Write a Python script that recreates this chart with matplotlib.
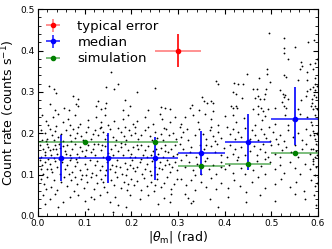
import numpy as np
import matplotlib
matplotlib.use("Agg")
import matplotlib.pyplot as plt
from matplotlib.ticker import MultipleLocator

# scatter of individual sources (units: mrad, 1e-3 counts/s)
pts_x = [156, 23, 34, 39, 146, 164, 171, 213, 250, 75, 86, 27, 82, 87, 129, 125, 146, 187, 198, 37, 57, 66, 136, 143, 182, 236, 264, 273, 284,
         494, 528, 578, 591, 528, 551, 527, 536, 563, 566, 561, 582, 593, 598, 589, 577, 447, 491, 490, 473, 527, 532, 557, 577, 594, 593,
         382, 386, 421, 429, 439, 461, 470, 489, 498, 518, 525, 530, 577, 582, 589, 594, 598, 591, 596, 586, 575, 564, 418, 425, 437,
         351, 356, 363, 371, 374, 330, 325, 346, 374, 414, 418, 425, 427, 464, 471, 475, 484, 487, 471, 477, 482, 461, 493, 508, 523,
         527, 532, 536, 528, 558, 584, 589, 594, 598, 586]
pts_y = [349, 315, 308, 297, 311, 307, 318, 300, 309, 291, 283, 270, 270, 265, 279, 266, 272, 281, 265, 257, 260, 257, 258, 262, 257, 257, 264, 262, 258,
         442, 431, 421, 426, 405, 409, 394, 379, 373, 362, 355, 367, 371, 379, 355, 349, 343, 355, 344, 334, 342, 336, 329, 329, 333, 319,
         327, 319, 321, 319, 319, 308, 308, 308, 325, 304, 295, 292, 303, 307, 311, 305, 315, 292, 287, 283, 289, 281, 299, 295, 284,
         287, 279, 273, 279, 273, 268, 260, 257, 254, 265, 260, 266, 260, 284, 289, 283, 283, 294, 265, 260, 254, 258, 258, 262, 275,
         266, 260, 283, 287, 258, 265, 258, 266, 258, 272]

# lower-left block, zoom pixel coords (x_mrad = zx*0.714, y = 251.1 - zy*0.807)
ll = [(12,10),(25,28),(45,15),(60,5),(75,30),(90,20),(95,38),(110,8),(125,35),(150,25),(175,15),(190,30),(200,10),(210,40),(228,28),(255,20),
      (270,10),(285,35),(298,28),(320,15),(345,35),(365,5),(372,22),(395,30),(410,15),(30,40),(55,42),(120,45),(185,48),(262,45),(330,45),(378,48),
      (8,55),(20,62),(35,50),(42,70),(50,58),(60,75),(70,65),(28,80),(12,85),(48,85),(85,55),(95,68),(105,50),(112,78),(118,62),(128,72),(135,85),
      (100,88),(145,60),(160,80),(172,55),(180,70),(188,45),(195,60),(200,82),(208,68),(215,52),(225,75),(235,85),(248,60),(258,72),(265,85),
      (272,55),(280,70),(292,62),(300,80),(310,68),(322,55),(335,72),(342,85),(350,60),(358,78),(368,65),(375,85),(385,50),(392,70),(405,62),
      (415,80),(240,48),(290,45),(25,88),(75,88),(150,45),(165,65),
      (5,100),(15,110),(22,120),(30,105),(38,128),(45,112),(52,98),(58,125),(65,108),(72,135),(80,118),(88,100),(95,130),(102,112),(110,95),
      (118,125),(125,105),(132,118),(140,132),(150,100),(158,120),(165,110),(172,128),(180,95),(188,115),(195,135),(202,102),(210,122),(218,110),
      (225,130),(232,98),(240,118),(248,105),(255,128),(262,95),(270,115),(278,125),(285,105),(292,135),(300,112),(308,98),(315,128),(322,115),
      (330,102),(338,130),(345,118),(352,95),(360,125),(368,108),(375,135),(382,98),(390,120),(398,110),(405,132),(412,100),(418,125),(10,135),
      (28,95),(48,138),(62,95),(85,125),(100,138),(122,135),(145,115),(168,95),(192,98),(215,135),(250,92),(275,135),(298,100),(326,135),
      (355,110),(380,118),(20,130),(35,115),(55,110),(75,102),
      (5,145),(12,160),(20,150),(28,170),(35,155),(42,180),(50,148),(58,165),(65,185),(72,150),(80,172),(88,158),(95,145),(102,180),(110,162),
      (118,150),(125,175),(132,188),(140,155),(148,170),(155,145),(162,182),(170,160),(178,148),(185,175),(192,162),(200,188),(208,150),
      (215,170),(222,158),(230,180),(238,145),(245,165),(252,185),(260,152),(268,172),(275,160),(282,145),(290,178),(298,165),(305,150),
      (312,185),(320,170),(328,155),(335,178),(342,148),(350,165),(358,185),(365,150),(372,172),(380,160),(388,145),(395,180),(402,165),
      (410,150),(418,175),(15,185),(38,170),(62,142),(92,185),(115,140),(145,188),(175,190),(205,175),(235,162),(265,190),(285,168),(310,142),
      (340,190),(362,168),(392,155),(8,172),(30,142),
      (8,200),(18,215),(28,195),(38,225),(48,205),(58,235),(68,210),(78,195),(88,222),(98,205),(108,238),(118,215),(128,200),(138,228),
      (148,210),(158,195),(168,232),(178,212),(188,200),(198,225),(208,240),(218,205),(228,218),(238,195),(248,228),(258,210),(268,235),
      (278,200),(288,220),(298,208),(308,235),(318,198),(328,222),(338,210),(348,238),(358,200),(368,225),(378,212),(388,195),(398,230),
      (408,215),(418,202),(25,230),(112,195),(195,210),(270,215),(350,218),
      (15,250),(35,262),(52,245),(75,270),(95,255),(120,248),(140,268),(160,255),(168,262),(185,250),(215,270),(232,255),(240,280),(275,250),
      (305,262),(330,248),(360,275),(378,258),(400,245),(60,285),(150,290),(225,300),(395,270),(20,275),(265,285)]

# lower-right block, zoom pixel coords (x_mrad = 300 + zx*0.714, y = 251.1 - zy*0.807)
lr = [(20,15),(45,10),(80,5),(100,20),(140,12),(165,8),(175,30),(198,18),(240,5),(252,25),(262,12),(290,35),(320,10),(345,25),(365,5),
      (388,15),(400,30),(412,8),(420,22),(8,35),(60,30),(120,38),(230,38),(330,38),
      (5,45),(15,60),(28,52),(10,75),(30,85),(50,70),(62,50),(75,65),(85,80),(95,55),(105,72),(112,88),(120,60),(130,78),(148,45),(155,65),
      (165,50),(172,80),(180,60),(190,75),(200,48),(222,55),(232,70),(240,85),(248,50),(258,65),(265,78),(272,45),(285,60),(295,82),(305,70),
      (318,88),(330,55),(345,75),(360,62),(372,85),(385,50),(395,70),(405,58),(412,80),(418,65),(422,45),(100,45),(215,82),(275,88),
      (5,95),(15,110),(25,130),(40,105),(55,135),(65,98),(78,112),(88,138),(100,102),(110,120),(118,95),(128,130),(138,108),(155,100),
      (165,125),(172,112),(180,135),(190,105),(200,128),(215,118),(228,102),(238,130),(245,112),(255,95),(262,120),(270,135),(280,100),
      (290,125),(300,95),(312,115),(325,105),(338,120),(350,100),(360,135),(372,112),(385,95),(395,125),(405,110),(412,135),(420,100),
      (35,120),(85,100),(148,135),(305,135),(415,118),
      (8,145),(20,165),(32,150),(45,175),(58,155),(68,185),(80,148),(92,170),(105,160),(115,185),(128,150),(140,172),(152,158),(165,182),
      (178,145),(190,168),(200,185),(212,155),(225,175),(238,148),(250,162),(262,185),(275,150),(290,172),(305,158),(318,182),(335,150),
      (350,168),(365,185),(380,155),(395,172),(405,148),(415,165),(422,185),(50,188),(130,165),(260,140),
      (10,200),(25,218),(40,205),(52,235),(70,210),(85,225),(98,198),(115,232),(130,212),(150,228),(168,205),(185,222),(205,240),(222,210),
      (240,195),(262,228),(290,215),(310,200),(335,225),(355,210),(378,238),(398,205),(412,222),(420,195),
      (20,245),(30,258),(38,272),(45,268),(95,262),(150,255),(205,270),(245,250),(292,268),(350,245),(380,262),(408,250),(415,280),(120,285),
      (402,40),(408,68),(414,95),(418,128),(404,155),(410,190),(416,212),(420,60),(400,110),(406,140)]

sx = np.array(pts_x + [zx * 0.714 for zx, zy in ll] + [300 + zx * 0.714 for zx, zy in lr]) / 1000
sy = np.array(pts_y + [251.1 - zy * 0.807 for zx, zy in ll] + [251.1 - zy * 0.807 for zx, zy in lr]) / 1000

# median per bin
med_x = [0.05, 0.15, 0.25, 0.35, 0.45, 0.55]
med_y = [0.139, 0.139, 0.140, 0.151, 0.178, 0.234]
med_lo = [0.085, 0.080, 0.088, 0.098, 0.111, 0.171]
med_hi = [0.195, 0.201, 0.191, 0.206, 0.246, 0.311]
med_xerr = [0.05, 0.05, 0.05, 0.05, 0.05, 0.05]

# simulation
sim_x = [0.10, 0.25, 0.35, 0.45, 0.55]
sim_y = [0.178, 0.178, 0.121, 0.125, 0.153]
sim_xerr = [0.10, 0.05, 0.05, 0.05, 0.05]

# typical error
typ_x, typ_y, typ_xerr, typ_yerr = 0.30, 0.40, 0.05, 0.04

fig = plt.figure(figsize=(3.32, 2.49), dpi=100)
ax = fig.add_axes([0.114, 0.133, 0.844, 0.830])

ax.plot(sx, sy, '.', color='black', markersize=2.6, markeredgewidth=0)

e1 = ax.errorbar([typ_x], [typ_y], xerr=[typ_xerr], yerr=[typ_yerr], fmt='o', color='r',
                 ms=3, elinewidth=1.2, capsize=0, label='typical error')
e1[2][0].set_alpha(0.5)

yerr_med = [np.array(med_y) - np.array(med_lo), np.array(med_hi) - np.array(med_y)]
e2 = ax.errorbar(med_x, med_y, xerr=med_xerr, yerr=yerr_med, fmt='o', color='b',
                 ms=3, elinewidth=1.2, capsize=0, label='median')
e2[2][0].set_alpha(0.85)

e3 = ax.errorbar(sim_x, sim_y, xerr=sim_xerr, fmt='o', color='g',
                 ms=3, elinewidth=1.2, capsize=0, label='simulation')
e3[2][0].set_alpha(0.6)

ax.set_xlim(0, 0.6)
ax.set_ylim(0, 0.5)
ax.xaxis.set_major_locator(MultipleLocator(0.1))
ax.xaxis.set_minor_locator(MultipleLocator(0.02))
ax.yaxis.set_major_locator(MultipleLocator(0.1))
ax.yaxis.set_minor_locator(MultipleLocator(0.02))
ax.tick_params(which='both', direction='in', top=True, right=True, labelsize=6.5, pad=2)
ax.tick_params(which='major', length=3.5)
ax.tick_params(which='minor', length=2)

ax.set_xlabel(r'$|\theta_\mathrm{m}|$ (rad)', fontsize=9, labelpad=1)
ax.set_ylabel(r'Count rate (counts s$^{-1}$)', fontsize=9, labelpad=3)

ax.legend(loc='upper left', frameon=False, fontsize=9.5, handlelength=0.7,
          handletextpad=1.5, labelspacing=0.25, borderaxespad=0.4)

fig.savefig('out.png', dpi=100)
